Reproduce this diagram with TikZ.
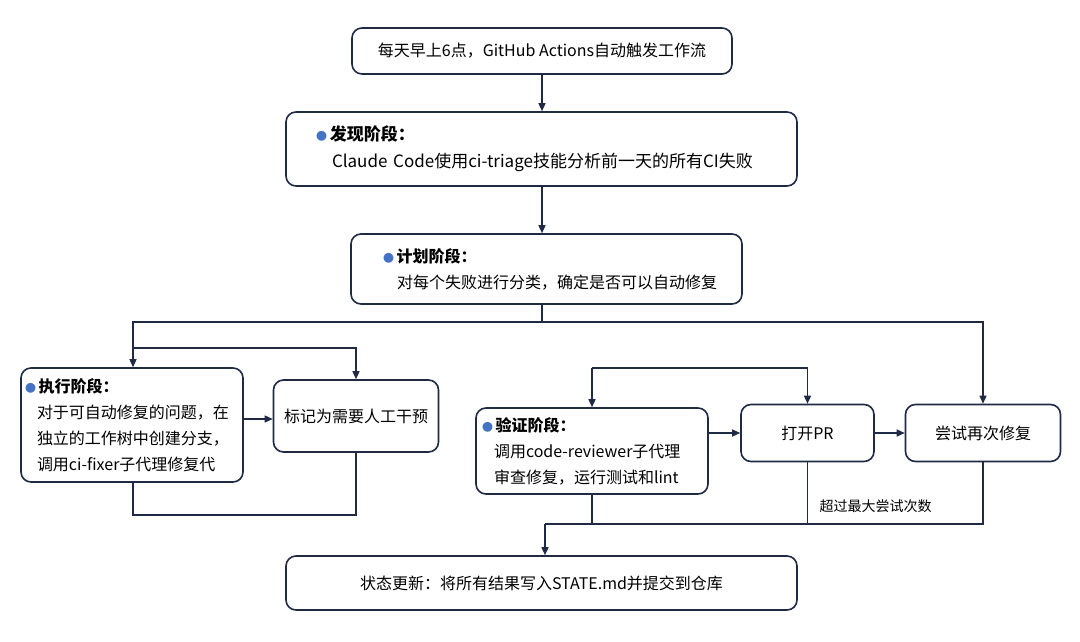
\documentclass[tikz,border=0pt]{standalone}
\usepackage{fontspec}
\setmainfont{Noto Sans CJK SC}
\usetikzlibrary{arrows.meta}
\definecolor{navy}{HTML}{1F2A44}
\definecolor{dot}{HTML}{4472C4}
\newcommand{\bul}{{\color{dot}\fontsize{11}{11}\selectfont ●}\,}
\begin{document}
\begin{tikzpicture}[x=1pt,y=-1pt,
  box/.style={draw=navy,line width=1.6pt,rounded corners=10pt,fill=white,inner ysep=0pt,font=\fontsize{16}{26}\selectfont,text=black,align=center},
  tbox/.style 2 args={box,align=left,inner xsep=#2,text width=#1-2*#2,minimum width=#1},
  arr/.style={draw=navy,line width=1.4pt,-{Triangle[length=8pt,width=7pt]}},
  ln/.style={draw=navy,line width=1.4pt}]
\useasboundingbox[fill=white] (0,0) rectangle (1080,642);
\node[box,minimum width=380pt,minimum height=46pt] (top) at (542,51) {每天早上6点，GitHub Actions自动触发工作流};
\node[tbox={511pt}{30pt},font=\fontsize{17}{27}\selectfont,minimum height=74pt] (disc) at (541.5,149) {\bul\textbf{发现阶段：}\\\hspace*{16pt}\mbox{Claude Code使用ci-triage技能分析前一天的所有CI失败}};
\node[tbox={391pt}{32pt},minimum height=70pt] (plan) at (546.5,269) {\bul\textbf{计划阶段：}\\\hspace*{14pt}\mbox{对每个失败进行分类，确定是否可以自动修复}};
\node[tbox={222pt}{4pt},minimum height=114pt] (exec) at (132,425) {\bul\textbf{执行阶段：}\\\hspace*{12pt}对于可自动修复的问题，在\\\hspace*{12pt}独立的工作树中创建分支，\\\hspace*{12pt}\mbox{调用ci-fixer子代理修复代}};
\node[box,minimum width=165pt,minimum height=72pt] (hum) at (356,416) {标记为需要人工干预};
\node[tbox={232pt}{6pt},minimum height=86pt] (ver) at (592,451) {\bul\textbf{验证阶段：}\\\hspace*{12pt}\mbox{调用code-reviewer子代理}\\\hspace*{12pt}\mbox{审查修复，运行测试和lint}};
\node[box,minimum width=133pt,minimum height=57pt] (pr) at (807.5,433) {打开PR};
\node[box,minimum width=155pt,minimum height=57pt] (ret) at (983,433) {尝试再次修复};
\node[box,minimum width=511pt,minimum height=54pt] (st) at (541.5,583) {状态更新：将所有结果写入STATE.md并提交到仓库};
\coordinate (j1) at (542,322);
\coordinate (j2) at (133,348);
\coordinate (j3) at (592,368);
\coordinate (j4) at (545,524);
\coordinate (c) at (542,0);
\draw[arr] (top.south -| c) -- (disc.north -| c);
\draw[arr] (disc.south -| c) -- (plan.north -| c);
\draw[ln] (plan.south -| c) -- (j1);
\draw[arr] (j1) -| (exec.north -| j2);
\draw[arr] (j1) -| (ret.north);
\draw[arr] (j2) -| (hum.north);
\draw[arr] (exec.east |- 0,419) -- (hum.west |- 0,419);
\draw[ln] (exec.south -| j2) -- (133,515) -| (hum.south);
\draw[arr] (j3) -- (ver.north -| j3);
\draw[arr] (j3) -| (pr.north);
\draw[arr] (ver.east |- pr) -- (pr.west);
\draw[arr] (pr.east) -- (ret.west);
\draw[ln] (ver.south) -- (ver.south |- j4);
\draw[ln] (pr.south) -- (pr.south |- j4);
\draw[ln] (ret.south) |- (j4);
\draw[arr] (j4) -- (st.north -| j4);
\node[font=\fontsize{14}{14}\selectfont,anchor=west] (lbl) at (816,506) {超过最大尝试次数};
\end{tikzpicture}
\end{document}
